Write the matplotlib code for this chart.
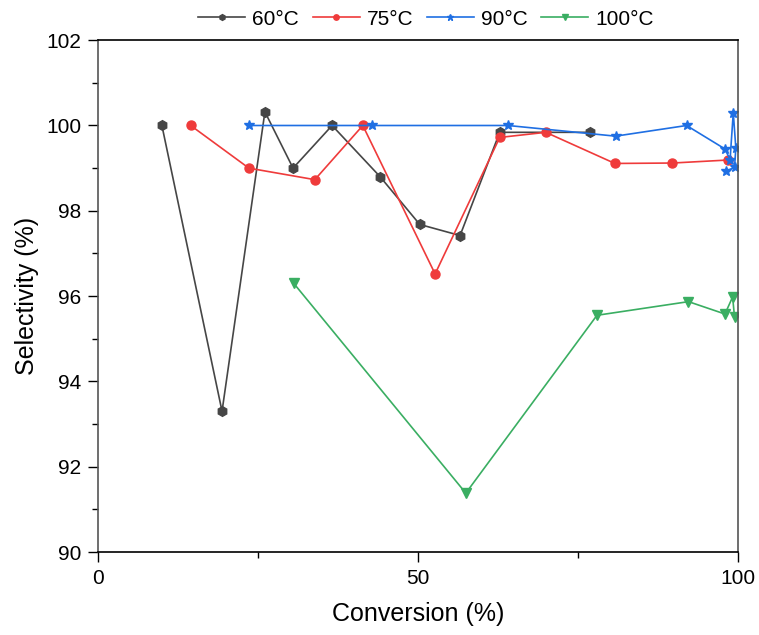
import numpy as np
from matplotlib import pyplot as plt
from matplotlib.ticker import MultipleLocator

plt.rcParams['font.family'] = ['Liberation Sans', 'DejaVu Sans']

# conversion (%) / selectivity (%) for each reaction temperature
conv_60 = [10.0, 19.4, 26.1, 30.5, 36.6, 44.1, 50.3, 56.6, 62.8, 76.9]
sel_60 = [100.0, 93.3, 100.32, 99.0, 100.0, 98.8, 97.68, 97.42, 99.84, 99.84]

conv_75 = [14.5, 23.6, 33.9, 41.4, 52.7, 62.8, 70.0, 80.8, 89.8, 98.4]
sel_75 = [100.0, 99.0, 98.73, 100.0, 96.52, 99.72, 99.84, 99.11, 99.12, 99.19]

conv_90 = [23.6, 42.8, 64.1, 80.9, 92.0, 98.0, 98.8, 99.3, 99.7, 99.5, 98.2]
sel_90 = [100.0, 100.0, 100.0, 99.75, 100.0, 99.45, 99.2, 100.3, 99.47, 99.02, 98.93]

conv_100 = [30.6, 57.5, 78.0, 92.3, 98.0, 99.2, 99.5]
sel_100 = [96.3, 91.38, 95.55, 95.87, 95.58, 95.98, 95.5]

labels = ['60°C', '75°C', '90°C', '100°C']
colors = ['#464646', '#ef3b3b', '#1f6fe3', '#3aae62']
markers = ['h', 'o', '*', 'v']
sizes = [7, 6.5, 7.5, 7]

fig = plt.figure(figsize=(7.59, 6.35), dpi=100)
ax = fig.add_axes([0.129, 0.1307, 0.843, 0.806])

series = [(conv_60, sel_60), (conv_75, sel_75), (conv_90, sel_90), (conv_100, sel_100)]
for (x, y), lab, c, m, s in zip(series, labels, colors, markers, sizes):
    ax.plot(x, y, color=c, marker=m, markersize=s, linewidth=1.2, label=lab)

ax.set_xlim(0, 100)
ax.set_ylim(90, 102)
ax.xaxis.set_major_locator(MultipleLocator(50))
ax.xaxis.set_minor_locator(MultipleLocator(25))
ax.yaxis.set_major_locator(MultipleLocator(2))
ax.yaxis.set_minor_locator(MultipleLocator(1))
ax.tick_params(which='major', direction='out', length=7, width=1, pad=5, labelsize=15)
ax.tick_params(which='minor', direction='out', length=4, width=1)
for sp in ax.spines.values():
    sp.set_linewidth(1.2)
ax.spines['left'].set_color('#555555')
ax.spines['right'].set_color('#555555')

ax.set_xlabel('Conversion (%)', fontsize=18, labelpad=10)
ax.set_ylabel('Selectivity (%)', fontsize=18, labelpad=5)

ax.legend(loc='lower center', bbox_to_anchor=(0.513, 1.0), ncol=4, frameon=False,
          fontsize=15, handlelength=2.25, handletextpad=0.35, columnspacing=0.65,
          borderaxespad=0.15, markerscale=0.6)

plt.savefig('out.png', dpi=100)
